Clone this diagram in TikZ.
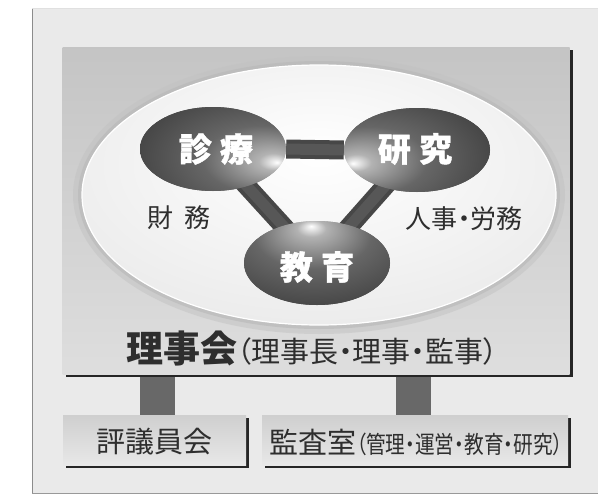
\documentclass[tikz,border=0pt]{standalone}
\usepackage{fontspec}
\newfontfamily\jp{Noto Sans CJK JP}[RawFeature=+palt]
\newfontfamily\jpheavy{Noto Sans CJK JP}[BoldFeatures={FakeBold=1.2}]
\usetikzlibrary{shapes.geometric,shadows}
\pgfdeclarelayer{bg}
\pgfsetlayers{bg,main}
\definecolor{panelc}{HTML}{EAEAEA}
\definecolor{txtc}{HTML}{2E2E2E}
\definecolor{barc}{HTML}{474747}
\definecolor{barl}{HTML}{575757}
\definecolor{stubc}{HTML}{686868}
\pgfdeclareradialshading{ovR}{\pgfpoint{22bp}{-8bp}}{color(0bp)=(white);color(5bp)=(black!30);color(20bp)=(black!60);color(40bp)=(black!74);color(80bp)=(black!78)}
\pgfdeclareradialshading{ovL}{\pgfpoint{-22bp}{-8bp}}{color(0bp)=(white);color(5bp)=(black!30);color(20bp)=(black!60);color(40bp)=(black!74);color(80bp)=(black!78)}
\pgfdeclareradialshading{ovT}{\pgfpoint{-2bp}{22bp}}{color(0bp)=(white);color(5bp)=(black!30);color(20bp)=(black!60);color(40bp)=(black!74);color(80bp)=(black!78)}
\pgfdeclareradialshading{bigell}{\pgfpoint{0bp}{8bp}}{color(0bp)=(white);color(20bp)=(black!5);color(40bp)=(black!10);color(48bp)=(black!14);color(50bp)=(black!16);color(80bp)=(black!16)}
\begin{document}
\begin{tikzpicture}[x=1pt,y=-1pt,
  board/.style={rectangle, inner sep=0, top color=black!23, bottom color=black!13,
     drop shadow={shadow xshift=3pt, shadow yshift=-3pt, fill=black!85, opacity=1}},
  lowbox/.style={rectangle, inner sep=0, minimum height=50pt, top color=black!19, bottom color=black!9,
     drop shadow={shadow xshift=3pt, shadow yshift=-3pt, fill=black!85, opacity=1}},
  oval/.style={ellipse, inner sep=0, minimum width=146pt, minimum height=84pt},
  ovtext/.style={font=\jpheavy\bfseries\fontsize{33}{36}\selectfont, text=white, inner sep=0},
  side/.style={font=\jp\fontsize{26}{30}\selectfont, text=txtc, inner sep=0},
  barout/.style={line width=19pt, barc},
  barin/.style={line width=11pt, barl},
  stub/.style={line width=35pt, stubc},
  lowtext/.style={font=\jp\fontsize{29}{32}\selectfont, text=txtc, inner sep=0}]
\useasboundingbox (0,0) rectangle (598,501);
% outer panel
\begin{pgfonlayer}{bg}
\fill[white] (0,0) rectangle (598,501);
\fill[panelc] (32,8) rectangle (598,493);
\draw[black!45, line width=1pt] (32,8) -- (32,493);
\draw[black!40, line width=1pt] (32,493) -- (598,493);
\draw[black!12, line width=0.8pt] (32,8) -- (598,8);
\end{pgfonlayer}
% board
\node[board, minimum width=507pt, minimum height=327pt] (board) at (316,210.5) {};
% big ellipse with glow
\node[ellipse, inner sep=0, minimum width=492pt, minimum height=278pt, fill=black!24, opacity=0.5] (glowA) at (319,195) {};
\node[ellipse, inner sep=0, minimum width=482pt, minimum height=268pt, fill=black!28, opacity=0.6] (glowB) at (319,195) {};
\node[ellipse, inner sep=0, minimum width=474pt, minimum height=260pt, shading=bigell, draw=white, line width=1.2pt] (bigell) at (319,195) {};
% ovals (positions)
\node[oval, shading=ovR] (shin) at (213,149) {};
\node[oval, shading=ovL] (ken) at (417,150) {};
\node[oval, shading=ovT] (kyo) at (317,263) {};
% bars between ovals
\draw[barout] (shin.east) -- (ken.west);
\draw[barin] (shin.east) -- (ken.west);
\draw[barout] (shin.center) -- (kyo.center);
\draw[barin] (shin.center) -- (kyo.center);
\draw[barout] (ken.center) -- (kyo.center);
\draw[barin] (ken.center) -- (kyo.center);
% ovals on top of bars
\node[oval, shading=ovR] (shin2) at (shin) {};
\node[oval, shading=ovL] (ken2) at (ken) {};
\node[oval, shading=ovT] (kyo2) at (kyo) {};
% oval texts
\node[ovtext] (shinT) at (216,149) {診\hspace{0.25em}療};
\node[ovtext] (kenT) at (415,149) {研\hspace{0.25em}究};
\node[ovtext] (kyoT) at (317,267) {教\hspace{0.25em}育};
% side labels
\node[side] (zaimu) at (179,218) {財\hspace{0.4em}務};
\node[side] (jinji) at (464,219) {人事・労務};
% board title
\node[font=\jp\fontsize{29}{34}\selectfont, text=txtc, inner sep=0] (riji) at (312,348)
  {{\bfseries\fontsize{37}{40}\selectfont 理事会}（理事長・理事・監事）};
% lower boxes
\node[lowbox, minimum width=183pt] (hyo) at (154.5,440) {};
\node[lowbox, minimum width=306pt] (kansa) at (415,440) {};
\node[lowtext] (hyoT) at (154,442) {評議員会};
\node[lowtext, anchor=west] (kansaT) at (269,442)
  {監査室\scalebox{0.82}[1]{\fontsize{24}{28}\selectfont （管理・運営・教育・研究）}};
% stubs
\begin{pgfonlayer}{bg}
\draw[stub] ([xshift=3pt]hyo.north) -- ([xshift=3pt]hyo.north |- board.center);
\draw[stub] ([xshift=-2pt]kansa.north) -- ([xshift=-2pt]kansa.north |- board.center);
\end{pgfonlayer}
\end{tikzpicture}
\end{document}
